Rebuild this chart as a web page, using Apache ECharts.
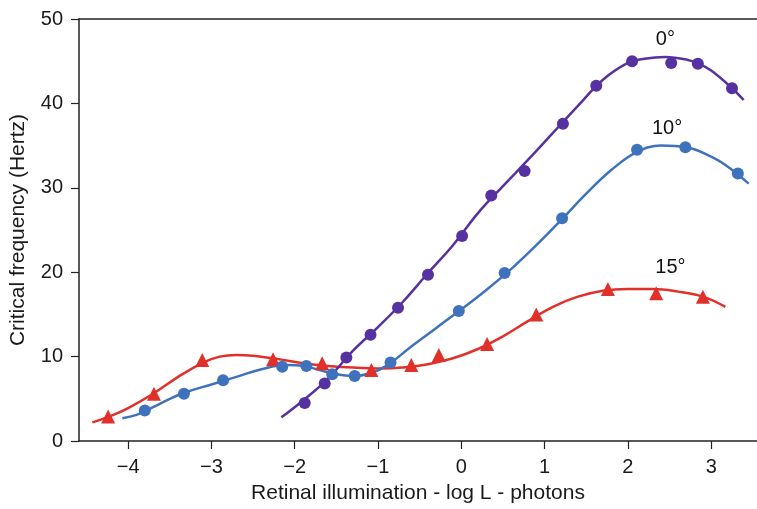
<!DOCTYPE html>
<html>
<head>
<meta charset="utf-8">
<script src="https://cdn.jsdelivr.net/npm/echarts@6/dist/echarts.min.js"></script>
<style>
html,body{margin:0;padding:0;background:#fff;}
#chart{width:757px;height:509px;}
</style>
</head>
<body>
<div id="chart"></div>
<script>
// measured points [log L, Hz]
var pts0 = [[-1.88,4.5],[-1.64,6.8],[-1.38,9.9],[-1.09,12.6],[-0.76,15.8],[-0.40,19.7],[0.01,24.3],[0.36,29.1],[0.76,32.0],[1.22,37.6],[1.62,42.1],[2.05,45.0],[2.52,44.8],[2.84,44.7],[3.25,41.8]];
var pts10 = [[-3.80,3.6],[-3.33,5.6],[-2.86,7.2],[-2.15,8.8],[-1.86,8.9],[-1.55,7.9],[-1.28,7.7],[-0.85,9.3],[-0.03,15.4],[0.52,19.9],[1.21,26.4],[2.11,34.5],[2.69,34.8],[3.32,31.7]];
var pts15 = [[-4.24,2.9],[-3.69,5.6],[-3.11,9.6],[-2.26,9.7],[-1.67,9.2],[-1.08,8.4],[-0.60,9.0],[-0.27,10.2],[0.31,11.5],[0.90,15.0],[1.76,18.0],[2.34,17.5],[2.90,17.1]];

// fitted curves
var fit0 = [[-2.16,2.8],[-1.9,4.8],[-1.6,7.4],[-1.3,10.7],[-1.0,13.5],[-0.7,16.5],[-0.4,19.9],[-0.1,23.2],[0.2,27.0],[0.5,30.2],[0.8,33.3],[1.1,36.5],[1.4,39.7],[1.7,42.8],[2.0,44.8],[2.2,45.3],[2.45,45.5],[2.7,45.2],[2.85,44.7],[3.0,43.9],[3.25,41.8],[3.39,40.4]];
var fit10 = [[-4.07,2.7],[-3.9,3.1],[-3.7,4.0],[-3.5,5.0],[-3.3,5.8],[-3.0,6.7],[-2.7,7.6],[-2.4,8.5],[-2.1,9.0],[-1.9,8.9],[-1.7,8.4],[-1.5,7.9],[-1.3,7.7],[-1.1,8.0],[-0.9,8.9],[-0.6,11.2],[-0.3,13.4],[0.0,15.6],[0.3,17.9],[0.6,20.4],[0.9,23.2],[1.2,26.2],[1.5,29.3],[1.8,32.1],[2.1,34.2],[2.4,35.0],[2.7,34.8],[3.0,33.7],[3.2,32.5],[3.45,30.5]];
var fit15 = [[-4.43,2.2],[-4.2,3.0],[-4.0,3.9],[-3.7,5.6],[-3.4,7.6],[-3.1,9.3],[-2.9,10.0],[-2.7,10.2],[-2.5,10.1],[-2.2,9.7],[-1.9,9.2],[-1.6,8.9],[-1.3,8.7],[-1.0,8.6],[-0.7,8.7],[-0.4,9.1],[-0.1,9.8],[0.2,10.9],[0.5,12.4],[0.8,14.2],[1.1,15.9],[1.4,17.1],[1.7,17.8],[2.0,18.0],[2.3,18.0],[2.6,17.7],[2.9,17.1],[3.17,15.9]];

var xTicks = [-4,-3,-2,-1,0,1,2,3];
var curveLabels = [[2.45,47.6,'0°'],[2.47,37.0,'10°'],[2.51,20.6,'15°']];

var cPurple = '#5631a0', cBlue = '#3f72bd', cRed = '#e1302a';
var font = 'Liberation Sans, Arial, sans-serif';

function curve(d, c){
	return {type:'line', data:d, smooth:0.4, showSymbol:false, lineStyle:{color:c,width:2.5}, silent:true, z:2};
}
function dots(d, c, sym, size){
	return {type:'scatter', data:d, symbol:sym, symbolSize:size, itemStyle:{color:c,opacity:1}, z:3};
}

var option = {
	animation:false,
	backgroundColor:'#fff',
	grid:{left:78, right:0, top:19, bottom:66, containLabel:false},
	xAxis:[{
		type:'value', min:-4.59, max:3.55,
		name:'Retinal illumination - log L - photons', nameLocation:'middle', nameGap:42,
		nameTextStyle:{fontFamily:font, fontSize:21, color:'#1a1a1a'},
		axisLine:{show:true, onZero:false, lineStyle:{color:'#222', width:1.5}},
		axisTick:{show:true, length:8, customValues:xTicks, lineStyle:{color:'#222', width:1.2}},
		axisLabel:{customValues:xTicks, margin:16, fontFamily:font, fontSize:20, color:'#1a1a1a',
			formatter:function(v){ return String(v).replace('-','\u2212'); }},
		splitLine:{show:false}
	},{
		type:'value', position:'top', min:-4.59, max:3.55,
		axisLine:{show:true, onZero:false, lineStyle:{color:'#222', width:1.5}},
		axisTick:{show:false}, axisLabel:{show:false}, splitLine:{show:false}
	}],
	yAxis:{
		type:'value', min:0, max:50, interval:10,
		name:'Critical frequency (Hertz)', nameLocation:'middle', nameGap:50,
		nameTextStyle:{fontFamily:font, fontSize:21, color:'#1a1a1a'},
		axisLine:{show:true, onZero:false, lineStyle:{color:'#222', width:1.5}},
		axisTick:{show:true, inside:false, length:8, lineStyle:{color:'#222', width:1.2}},
		axisLabel:{margin:16, fontFamily:font, fontSize:20, color:'#1a1a1a'},
		splitLine:{show:false}
	},
	series:[
		curve(fit15, cRed),
		curve(fit10, cBlue),
		curve(fit0, cPurple),
		dots(pts15, cRed, 'triangle', 14),
		dots(pts10, cBlue, 'circle', 12),
		dots(pts0, cPurple, 'circle', 12),
		{type:'scatter', data:curveLabels.map(function(a){ return {value:[a[0],a[1]], name:a[2]}; }),
			symbolSize:0, silent:true, itemStyle:{opacity:1},
			label:{show:true, position:'inside', formatter:'{b}', fontFamily:font, fontSize:20, color:'#111'}}
	]
};

var mychart = echarts.init(document.getElementById('chart'));
mychart.setOption(option);
</script>
</body>
</html>
